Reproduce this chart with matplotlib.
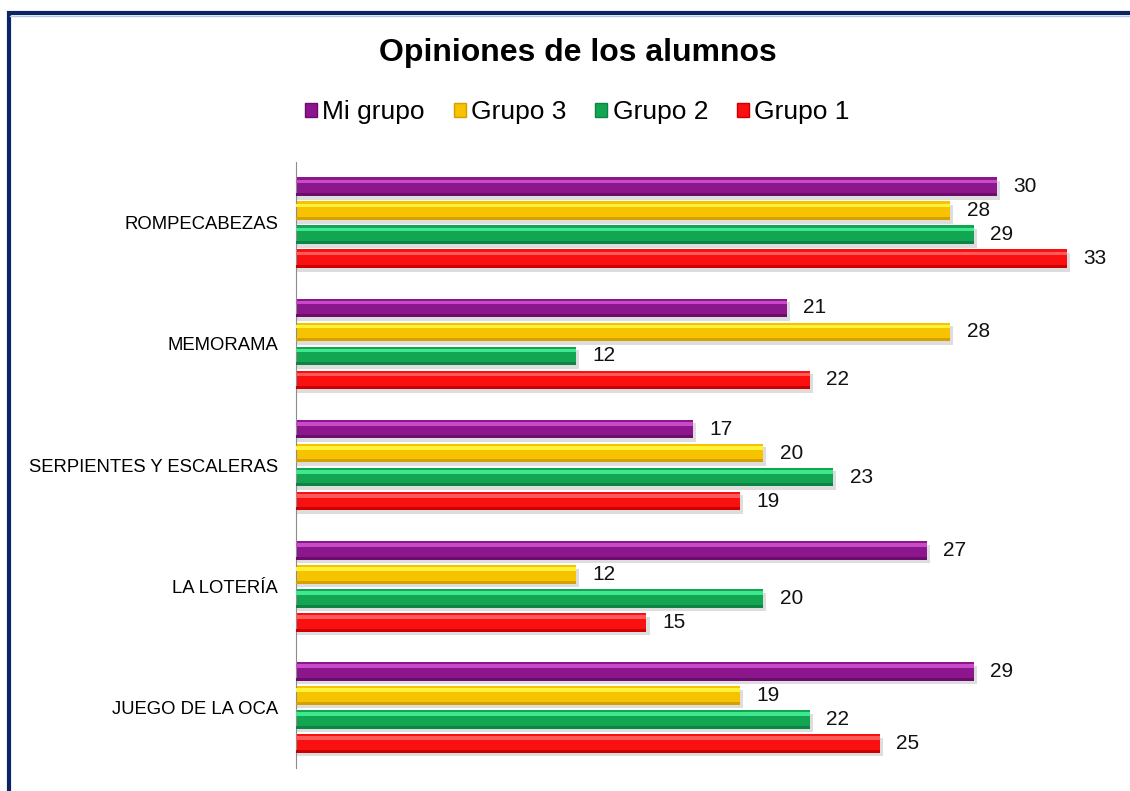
import numpy as np
import matplotlib.pyplot as plt
from matplotlib.patches import Rectangle, Patch

plt.rcParams['font.family'] = ['Liberation Sans', 'DejaVu Sans']

categorias = ['ROMPECABEZAS', 'MEMORAMA', 'SERPIENTES Y ESCALERAS', 'LA LOTERÍA', 'JUEGO DE LA OCA']
series = ['Mi grupo', 'Grupo 3', 'Grupo 2', 'Grupo 1']
mi_grupo = [30, 21, 17, 27, 29]
grupo_3 = [28, 28, 20, 12, 19]
grupo_2 = [29, 12, 23, 20, 22]
grupo_1 = [33, 22, 19, 15, 25]
valores = [mi_grupo, grupo_3, grupo_2, grupo_1]

# main, highlight, dark edge
colores = [
    ('#8c168c', '#c94ac9', '#6e0c6e'),
    ('#f7c200', '#fff23a', '#d3a200'),
    ('#12a653', '#3fe88f', '#0d8443'),
    ('#fa1010', '#ff5a5a', '#cc0000'),
]

fig = plt.figure(figsize=(11.3, 7.91), dpi=100)
ax = fig.add_axes([0.262, 0.029, 0.7236, 0.7662])

# marco azul del grafico
fig.patches.append(Rectangle((8.5 / 1130, -0.1), 1.2, (791 - 13) / 791 + 0.1,
                             transform=fig.transFigure, fill=False,
                             edgecolor='#0b2466', linewidth=3))
fig.lines.append(plt.Line2D([10 / 1130, 1], [1 - 15.5 / 791] * 2, transform=fig.transFigure,
                            color='#b8c6e6', linewidth=1))

y = np.arange(len(categorias))
paso = 0.198
alto = 0.153

for i, (vals, (c, claro, oscuro)) in enumerate(zip(valores, colores)):
    pos = y + (i - 1.5) * paso
    # sombra
    ax.barh(pos + 0.03, np.array(vals) + 0.08, height=alto, left=0.05,
            color='#a0a0a0', alpha=0.35, zorder=1)
    ax.barh(pos, vals, height=alto, color=c, zorder=2)
    ax.barh(pos - alto * 0.28, vals, height=alto * 0.2, color=claro, zorder=3)
    ax.barh(pos + alto * 0.42, vals, height=alto * 0.16, color=oscuro, zorder=3)
    for p, v in zip(pos, vals):
        ax.text(v + 0.7, p, str(v), va='center', ha='left', fontsize=15, color='#111111')

ax.set_xlim(0, 35)
ax.set_ylim(4.5, -0.5)
ax.set_yticks(y)
ax.set_yticklabels(categorias, fontsize=13.3)
ax.set_xticks([])
ax.tick_params(axis='y', length=0, pad=13)
for s in ['top', 'right', 'bottom']:
    ax.spines[s].set_visible(False)
ax.spines['left'].set_color('#8c8c8c')

fig.text(0.511, 1 - 53 / 791, 'Opiniones de los alumnos', ha='center', va='center',
         fontsize=23, fontweight='bold')

handles = [Patch(facecolor=c, edgecolor=o, linewidth=1) for c, _, o in colores]
fig.legend(handles, series, loc='center', bbox_to_anchor=(0.511, 1 - 112 / 791), ncol=4,
           frameon=False, fontsize=19, handlelength=0.45, handleheight=0.45,
           handletextpad=0.2, columnspacing=1.1)

fig.savefig('out.png', dpi=100)
